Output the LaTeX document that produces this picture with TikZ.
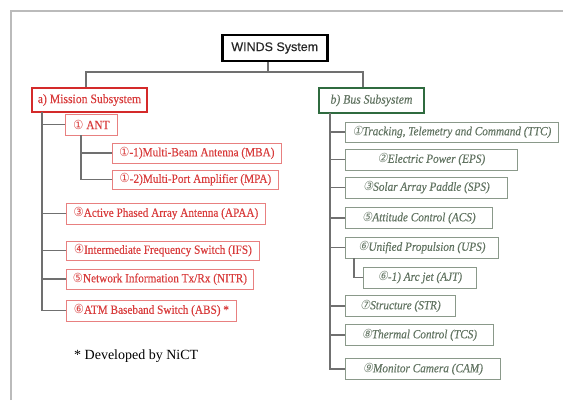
\documentclass[tikz,border=0pt]{standalone}
\usepackage{fontspec}
\setmainfont{Liberation Serif}[FakeStretch=0.9,FakeBold=0.3]
\newfontfamily\notefont{Liberation Serif}
\newfontfamily\winfont{Liberation Sans}[FakeBold=0.3]
\newfontfamily\circfont{DejaVu Sans}[FakeStretch=0.9]
\newfontfamily\circit{DejaVu Sans}[FakeSlant=0.2,FakeStretch=0.9]
\definecolor{redtxt}{HTML}{D83C3C}
\definecolor{redbd}{HTML}{E88080}
\definecolor{missbd}{HTML}{D42A2A}
\definecolor{grntxt}{HTML}{627462}
\definecolor{grnbd}{HTML}{8A998A}
\definecolor{busbd}{HTML}{2F6B3F}
\definecolor{conncol}{HTML}{707070}
\definecolor{framecol}{HTML}{BBBBBB}
\newcommand{\circL}[1]{{\circfont\fontsize{12.5}{13}\selectfont #1}}
\newcommand{\circR}[1]{{\circit\fontsize{12.5}{13}\selectfont #1}}
\tikzset{
  box/.style={anchor=west, inner sep=2pt, font=\fontsize{12.5}{14}\selectfont},
  mbox/.style={box, draw=redbd, line width=0.9pt, text=redtxt},
  gbox/.style={box, draw=grnbd, line width=0.9pt, text=grntxt, font=\itshape\fontsize{12.5}{14}\selectfont},
  conn/.style={draw=conncol, line width=1.2pt},
}
\begin{document}
\begin{tikzpicture}[x=1pt,y=-1pt]
\useasboundingbox (0,0) rectangle (563,400);
\draw[framecol, line width=1.5pt] (11,400) -- (11,11) -- (563,11);
% top
\node[anchor=west, draw=black, line width=2.5pt, minimum width=105, minimum height=26, inner sep=2pt, text=black!85, font=\winfont\fontsize{12.5}{14}\selectfont] (winds) at (221,48) {WINDS System};
\node[box, draw=missbd, line width=2pt, text=redtxt, minimum width=115, minimum height=24, font=\fontsize{13}{14}\selectfont] (mission) at (31,100) {a) Mission Subsystem};
\node[box, draw=busbd, line width=2pt, text=grntxt, minimum width=105, minimum height=25, font=\itshape\fontsize{13}{14}\selectfont] (bus) at (318,100.5) {b) Bus Subsystem};
\coordinate (hub) at (268,72);
\coordinate (ml) at (86,72);
\coordinate (br) at (363,72);
\draw[conn] (winds.south -| hub) -- (hub);
\draw[conn] (mission.north -| ml) -- (ml) -- (br) -- (bus.north -| br);
% mission side
\node[mbox, minimum width=52, minimum height=21] (ant) at (65,124.5) {\circL{①} ANT};
\node[mbox, minimum width=169, minimum height=20] (mba) at (112,153) {\circL{①}-1)Multi-Beam Antenna (MBA)};
\node[mbox, minimum width=166, minimum height=19] (mpa) at (112,179.5) {\circL{①}-2)Multi-Port Amplifier (MPA)};
\node[mbox, minimum width=199, minimum height=21] (apaa) at (66,213.5) {\circL{③}Active Phased Array Antenna (APAA)};
\node[mbox, minimum width=193, minimum height=19] (ifs) at (66,250.5) {\circL{④}Intermediate Frequency Switch (IFS)};
\node[mbox, minimum width=187, minimum height=20] (nitr) at (66,279) {\circL{⑤}Network Information Tx/Rx (NITR)};
\node[mbox, minimum width=170, minimum height=21] (abs) at (66,310.5) {\circL{⑥}ATM Baseband Switch (ABS) *};
\node[anchor=west, inner sep=0pt, font=\notefont\fontsize{14}{16}\selectfont] (note) at (74,356) {* Developed by NiCT};
\coordinate (lt) at (42,112);
\coordinate (at) at (81,135);
\draw[conn] (lt) |- (abs.west);
\foreach \n in {ant,apaa,ifs,nitr} \draw[conn] (lt |- \n.west) -- (\n.west);
\draw[conn] (at) |- (mpa.west);
\draw[conn] (at |- mba.west) -- (mba.west);
% bus side
\node[gbox, minimum width=213, minimum height=20] (ttc) at (345,132) {\circR{①}Tracking, Telemetry and Command (TTC)};
\node[gbox, minimum width=172, minimum height=21] (eps) at (345,159.5) {\circR{②}Electric Power (EPS)};
\node[gbox, minimum width=162, minimum height=21] (sps) at (345,187.5) {\circR{③}Solar Array Paddle (SPS)};
\node[gbox, minimum width=147, minimum height=21] (acs) at (345,218) {\circR{⑤}Attitude Control (ACS)};
\node[gbox, minimum width=153, minimum height=21] (ups) at (345,247.5) {\circR{⑥}Unified Propulsion (UPS)};
\node[gbox, minimum width=113, minimum height=21] (ajt) at (363,277.5) {\circR{⑥}-1) Arc jet (AJT)};
\node[gbox, minimum width=110, minimum height=21] (str) at (345,306) {\circR{⑦}Structure (STR)};
\node[gbox, minimum width=148, minimum height=21] (tcs) at (345,335) {\circR{⑧}Thermal Control (TCS)};
\node[gbox, minimum width=155, minimum height=21] (cam) at (345,369) {\circR{⑨}Monitor Camera (CAM)};
\coordinate (rt) at (330,113);
\coordinate (ut) at (354,258);
\draw[conn] (rt) |- (cam.west);
\foreach \n in {ttc,eps,sps,acs,ups,str,tcs} \draw[conn] (rt |- \n.west) -- (\n.west);
\draw[conn] (ut) |- (ajt.west);
\end{tikzpicture}
\end{document}
